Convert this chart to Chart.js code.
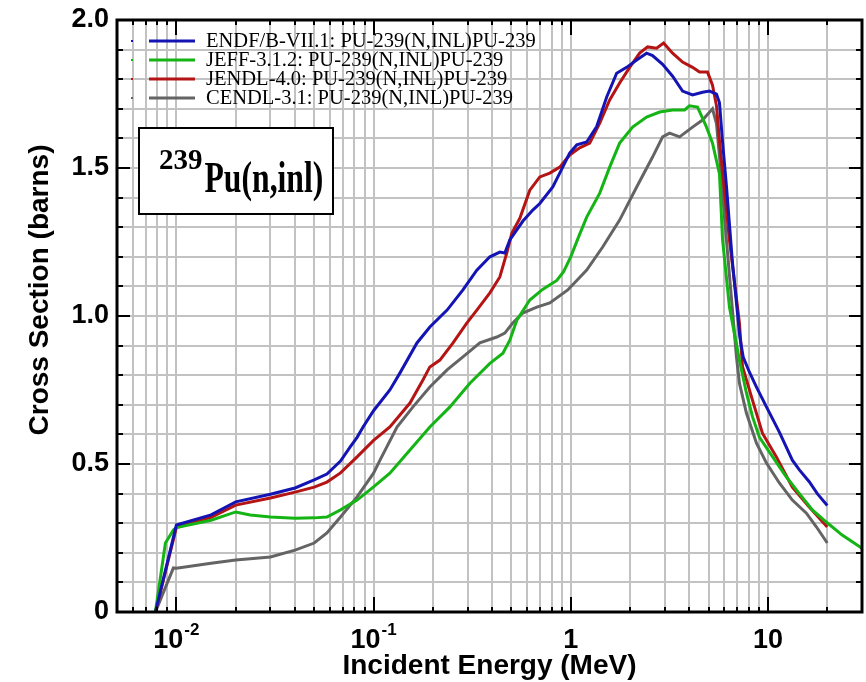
<!DOCTYPE html>
<html>
<head>
<meta charset="utf-8">
<script src="https://cdn.jsdelivr.net/npm/chart.js@4"></script>
<style>
    html, body { margin: 0; padding: 0; background: #ffffff; }
    #box { width: 866px; height: 682px; }
</style>
</head>
<body>
<div id="box"><canvas id="grafico" width="866" height="682"></canvas></div>
<script>

// =========================
// DATA (energies in MeV, cross sections in barns)
// =========================

const endfEnergia = [0.00783, 0.01, 0.015, 0.02, 0.03, 0.04, 0.05, 0.058, 0.068, 0.076, 0.0825, 0.0885, 0.1, 0.121, 0.136, 0.166, 0.193, 0.236, 0.284, 0.334, 0.389, 0.437, 0.463, 0.491, 0.571, 0.642, 0.697, 0.811, 0.911, 0.988, 1.073, 1.205, 1.354, 1.522, 1.71, 1.92, 2.16, 2.425, 2.6, 2.924, 3.285, 3.69, 4.147, 4.66, 5.056, 5.486, 5.68, 5.885, 6.16, 6.61, 7.2, 7.5, 8.06, 8.75, 9.83, 11.43, 13.3, 14.44, 16.2, 17.8, 20];
const endfSigma = [0, 0.294, 0.328, 0.372, 0.398, 0.419, 0.446, 0.466, 0.51, 0.557, 0.59, 0.625, 0.68, 0.75, 0.807, 0.909, 0.963, 1.02, 1.088, 1.155, 1.2, 1.216, 1.213, 1.257, 1.32, 1.358, 1.38, 1.436, 1.503, 1.55, 1.578, 1.588, 1.64, 1.74, 1.82, 1.84, 1.865, 1.888, 1.88, 1.85, 1.81, 1.76, 1.747, 1.756, 1.76, 1.75, 1.72, 1.59, 1.44, 1.18, 0.93, 0.86, 0.81, 0.76, 0.693, 0.608, 0.513, 0.48, 0.44, 0.40, 0.36];

const jeffEnergia = [0.00783, 0.0088, 0.00966, 0.01, 0.015, 0.02, 0.0237, 0.03, 0.04, 0.05, 0.058, 0.068, 0.0825, 0.1, 0.121, 0.153, 0.193, 0.244, 0.308, 0.389, 0.453, 0.491, 0.533, 0.62, 0.72, 0.85, 0.92, 1.0, 1.1, 1.205, 1.403, 1.576, 1.77, 2.06, 2.425, 2.823, 3.285, 3.78, 4.0, 4.395, 4.883, 5.236, 5.68, 5.885, 6.38, 7.17, 7.78, 8.35, 9.06, 10.18, 12.41, 14.44, 16.8, 19.77, 23.8, 30];
const jeffSigma = [0, 0.233, 0.277, 0.285, 0.31, 0.338, 0.328, 0.321, 0.317, 0.318, 0.321, 0.345, 0.378, 0.423, 0.469, 0.547, 0.625, 0.693, 0.773, 0.84, 0.874, 0.918, 0.986, 1.054, 1.09, 1.12, 1.15, 1.2, 1.27, 1.334, 1.415, 1.503, 1.584, 1.638, 1.672, 1.689, 1.696, 1.696, 1.71, 1.706, 1.638, 1.584, 1.48, 1.26, 1.03, 0.851, 0.74, 0.66, 0.59, 0.54, 0.456, 0.40, 0.345, 0.304, 0.26, 0.215];

const jendlEnergia = [0.00783, 0.01, 0.015, 0.02, 0.03, 0.04, 0.05, 0.058, 0.068, 0.0825, 0.1, 0.121, 0.153, 0.178, 0.193, 0.217, 0.253, 0.297, 0.334, 0.389, 0.437, 0.474, 0.503, 0.552, 0.62, 0.697, 0.783, 0.88, 0.988, 1.11, 1.248, 1.403, 1.576, 1.77, 1.99, 2.236, 2.455, 2.725, 2.958, 3.285, 3.69, 4.147, 4.5, 4.94, 5.236, 5.486, 5.68, 6.38, 7.17, 7.43, 8.35, 9.38, 11.04, 13.3, 16.2, 20];
const jendlSigma = [0, 0.285, 0.32, 0.361, 0.385, 0.405, 0.422, 0.439, 0.47, 0.524, 0.58, 0.625, 0.706, 0.784, 0.828, 0.851, 0.909, 0.976, 1.02, 1.078, 1.132, 1.213, 1.28, 1.33, 1.425, 1.47, 1.483, 1.503, 1.544, 1.568, 1.584, 1.652, 1.73, 1.787, 1.84, 1.888, 1.909, 1.905, 1.922, 1.888, 1.858, 1.84, 1.824, 1.824, 1.78, 1.71, 1.59, 1.257, 0.976, 0.83, 0.716, 0.604, 0.524, 0.422, 0.355, 0.287];

const cendlEnergia = [0.00783, 0.00966, 0.01, 0.015, 0.02, 0.03, 0.04, 0.05, 0.058, 0.068, 0.0825, 0.1, 0.108, 0.1315, 0.1585, 0.193, 0.236, 0.284, 0.346, 0.422, 0.463, 0.508, 0.571, 0.673, 0.783, 0.966, 1.205, 1.452, 1.77, 2.16, 2.6, 2.924, 3.17, 3.565, 4.147, 4.66, 5.236, 5.486, 5.68, 6.16, 6.93, 7.17, 7.78, 8.75, 9.83, 11.43, 13.3, 15.67, 17.6, 20];
const cendlSigma = [0, 0.149, 0.148, 0.165, 0.176, 0.186, 0.209, 0.233, 0.267, 0.321, 0.389, 0.469, 0.514, 0.625, 0.693, 0.76, 0.818, 0.862, 0.909, 0.929, 0.942, 0.976, 1.01, 1.03, 1.044, 1.088, 1.155, 1.233, 1.324, 1.436, 1.537, 1.605, 1.618, 1.605, 1.638, 1.662, 1.70, 1.65, 1.54, 1.257, 0.86, 0.773, 0.672, 0.57, 0.503, 0.436, 0.378, 0.334, 0.288, 0.233];

const nomesSeries = [
    "ENDF/B-VII.1: PU-239(N,INL)PU-239",
    "JEFF-3.1.2: PU-239(N,INL)PU-239",
    "JENDL-4.0: PU-239(N,INL)PU-239",
    "CENDL-3.1: PU-239(N,INL)PU-239"
];
const coresSeries = ["#1414b4", "#14b414", "#b41414", "#646464"];

const xDecadas = [0.01, 0.1, 1, 10];
const xRotulosBase = ["10", "10", "1", "10"];
const xRotulosExpoente = ["-2", "-1", "", ""];
const yRotulos = [0, 0.5, 1.0, 1.5, 2.0];
const yRotulosTexto = ["0", "0.5", "1.0", "1.5", "2.0"];

const X_MIN = 0.005;
const X_MAX = 30;

// tick positions: 1..9 x each decade inside the range
const xTicks = [];
[0.001, 0.01, 0.1, 1, 10].forEach(d => {
    for (let m = 1; m <= 9; m++) {
        const v = +(m * d).toPrecision(3);
        if (v >= X_MIN && v <= X_MAX) xTicks.push(v);
    }
});
const yTicks = [];
for (let i = 0; i <= 20; i++) yTicks.push(+(i * 0.1).toFixed(1));


// =========================
// HELPERS
// =========================

function juntar(energias, valores) {
    return energias.map((e, i) => ({ x: e, y: valores[i] }));
}

function ehDecada(v) {
    return xDecadas.some(d => Math.abs(d - v) < d * 1e-6);
}


// =========================
// PLUGIN: frame, ticks, labels, legend, title box
// =========================

const decoracao = {
    id: "decoracao",
    afterDraw(chart) {
        const ctx = chart.ctx;
        const a = chart.chartArea;
        const xs = chart.scales.x;
        const ys = chart.scales.y;

        ctx.save();
        ctx.strokeStyle = "#000";
        ctx.lineWidth = 2;

        // x ticks (inside, bottom and top)
        xTicks.forEach(v => {
            const px = Math.round(xs.getPixelForValue(v));
            const len = ehDecada(v) ? 15 : 5;
            ctx.beginPath();
            ctx.moveTo(px, a.bottom); ctx.lineTo(px, a.bottom - len);
            ctx.moveTo(px, a.top); ctx.lineTo(px, a.top + len);
            ctx.stroke();
        });

        // y ticks (inside, left and right)
        yTicks.forEach(v => {
            const py = Math.round(ys.getPixelForValue(v));
            const len = Math.abs(v * 2 - Math.round(v * 2)) < 1e-6 ? 13 : 6;
            ctx.beginPath();
            ctx.moveTo(a.left, py); ctx.lineTo(a.left + len, py);
            ctx.moveTo(a.right, py); ctx.lineTo(a.right - len, py);
            ctx.stroke();
        });

        // frame
        ctx.lineWidth = 3;
        ctx.strokeRect(a.left, a.top, a.right - a.left, a.bottom - a.top);

        ctx.fillStyle = "#000";

        // y tick labels
        ctx.font = "bold 27px 'Liberation Sans', Arial, sans-serif";
        ctx.textAlign = "right";
        ctx.textBaseline = "middle";
        yRotulos.forEach((v, i) => {
            ctx.fillText(yRotulosTexto[i], a.left - 8, ys.getPixelForValue(v));
        });

        // x tick labels with exponent
        ctx.textBaseline = "alphabetic";
        ctx.textAlign = "left";
        xDecadas.forEach((v, i) => {
            const px = xs.getPixelForValue(v);
            ctx.font = "bold 27px 'Liberation Sans', Arial, sans-serif";
            const wb = ctx.measureText(xRotulosBase[i]).width;
            ctx.font = "bold 17px 'Liberation Sans', Arial, sans-serif";
            const we = xRotulosExpoente[i] ? ctx.measureText(xRotulosExpoente[i]).width + 1 : 0;
            const x0 = px - (wb + we) / 2;
            ctx.font = "bold 27px 'Liberation Sans', Arial, sans-serif";
            ctx.fillText(xRotulosBase[i], x0, a.bottom + 36);
            if (we) {
                ctx.font = "bold 17px 'Liberation Sans', Arial, sans-serif";
                ctx.fillText(xRotulosExpoente[i], x0 + wb + 1, a.bottom + 23);
            }
        });

        // axis titles
        ctx.font = "bold 28px 'Liberation Sans', Arial, sans-serif";
        ctx.textAlign = "center";
        ctx.fillText("Incident Energy (MeV)", (a.left + a.right) / 2, 674);

        ctx.save();
        ctx.translate(48, 290);
        ctx.rotate(-Math.PI / 2);
        ctx.fillText("Cross Section (barns)", 0, 0);
        ctx.restore();

        // legend
        ctx.font = "20.5px 'Liberation Serif', 'Times New Roman', serif";
        ctx.textAlign = "left";
        ctx.textBaseline = "middle";
        chart.data.datasets.forEach((ds, i) => {
            const yy = 41 + i * 19;
            ctx.fillStyle = ds.borderColor;
            ctx.fillRect(131, yy - 1, 2, 2);
            ctx.strokeStyle = ds.borderColor;
            ctx.lineWidth = 3;
            ctx.beginPath();
            ctx.moveTo(149, yy); ctx.lineTo(195, yy);
            ctx.stroke();
            ctx.fillStyle = "#000";
            ctx.fillText(ds.label, 206, yy + 1);
        });

        // title box
        ctx.fillStyle = "#fff";
        ctx.fillRect(139, 128, 194, 86);
        ctx.strokeStyle = "#000";
        ctx.lineWidth = 2;
        ctx.strokeRect(139, 128, 194, 86);
        ctx.fillStyle = "#000";
        ctx.textBaseline = "alphabetic";
        ctx.font = "bold 29px 'Liberation Serif', 'Times New Roman', serif";
        ctx.fillText("239", 159, 169);
        const w239 = ctx.measureText("239").width;
        ctx.save();
        ctx.translate(159 + w239 + 2, 192);
        ctx.scale(0.72, 1);
        ctx.font = "bold 44px 'Liberation Serif', 'Times New Roman', serif";
        ctx.fillText("Pu(n,inl)", 0, 0);
        ctx.restore();

        ctx.restore();
    }
};


// =========================
// CHART
// =========================

const conjuntos = [
    juntar(endfEnergia, endfSigma),
    juntar(jeffEnergia, jeffSigma),
    juntar(jendlEnergia, jendlSigma),
    juntar(cendlEnergia, cendlSigma)
];

new Chart(document.getElementById("grafico"), {
    type: "line",
    data: {
        datasets: conjuntos.map((pts, i) => ({
            label: nomesSeries[i],
            data: pts,
            borderColor: coresSeries[i],
            borderWidth: 3,
            pointRadius: 0,
            tension: 0,
            fill: false
        }))
    },
    options: {
        responsive: false,
        animation: false,
        devicePixelRatio: 1,
        layout: { padding: { left: 0, right: 4, top: 20, bottom: 0 } },
        plugins: {
            legend: { display: false },
            tooltip: { enabled: false }
        },
        scales: {
            x: {
                type: "logarithmic",
                min: X_MIN,
                max: X_MAX,
                afterBuildTicks: s => { s.ticks = xTicks.map(v => ({ value: v })); },
                afterFit: s => { s.height = 70; },
                ticks: { display: false },
                grid: { color: "#c2c2c2", lineWidth: 2, drawTicks: false },
                border: { display: false }
            },
            y: {
                type: "linear",
                min: 0,
                max: 2,
                afterBuildTicks: s => { s.ticks = yTicks.map(v => ({ value: v })); },
                afterFit: s => { s.width = 117; },
                ticks: { display: false },
                grid: { color: "#c2c2c2", lineWidth: 2, drawTicks: false },
                border: { display: false }
            }
        }
    },
    plugins: [decoracao]
});

</script>
</body>
</html>
